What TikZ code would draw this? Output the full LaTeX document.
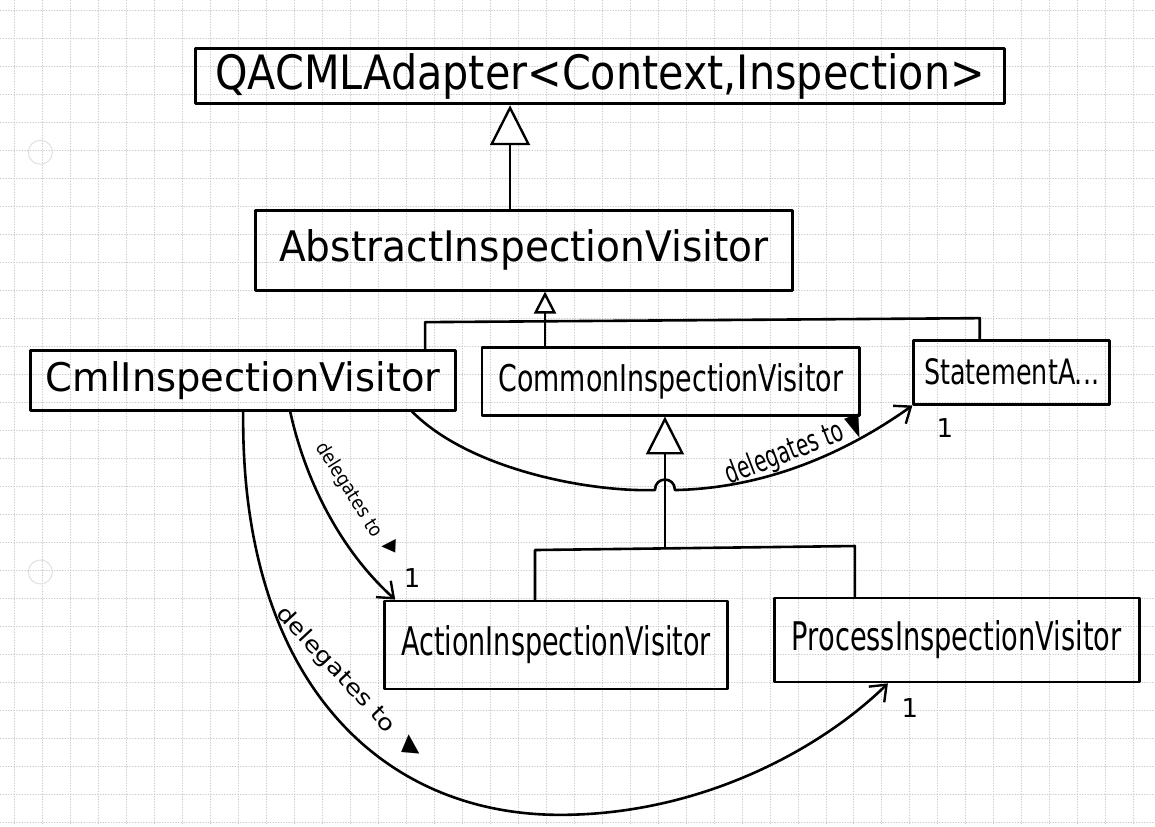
\documentclass[tikz,border=0pt]{standalone}
\usepackage{fontspec}
\setmainfont{DejaVu Sans}
\usetikzlibrary{arrows.meta,calc}
\newcommand{\hwtext}[3]{\resizebox{#1}{#2}{#3}}
\begin{document}
\begin{tikzpicture}[x=1pt,y=-1pt,line width=2.6pt,line cap=round,line join=round,
  box/.style={draw,line width=2.8pt,inner sep=0pt,anchor=center},
  gen/.style={-{Triangle[open,length=#1,width=#1,fill=white,line width=2.4pt]}},
  gen/.default=36pt,
  dlg/.style={-{Straight Barb[length=14pt,width=22pt,line width=2.4pt]}},
  lbl/.style={inner sep=0pt},
  mult/.style={inner sep=0pt,font=\fontsize{26}{26}\selectfont},
  gridline/.style={black!22,dotted,line width=0.7pt}]
% paper
\fill[white] (0,0) rectangle (1155,826);
\foreach \i in {14,42,...,1155} \draw[gridline] (\i,0) -- (\i,826);
\foreach \j in {10,38,...,826} \draw[gridline] (0,\j) -- (1155,\j);
\draw[black!12,line width=1pt] (40,152) circle[radius=12];
\draw[black!12,line width=1pt] (40,572) circle[radius=12];
% classes
\node[box,minimum width=810pt,minimum height=55pt] (qa) at (600,76)
  {\hwtext{770pt}{36pt}{QACMLAdapter<Context,Inspection>}};
\node[box,minimum width=538pt,minimum height=80pt] (ab) at (524,250)
  {\hwtext{490pt}{32pt}{AbstractInspectionVisitor}};
\node[box,minimum width=425pt,minimum height=60pt] (cml) at (243,380)
  {\hwtext{395pt}{30pt}{CmlInspectionVisitor}};
\node[box,minimum width=378pt,minimum height=68pt] (com) at (671,381)
  {\hwtext{345pt}{28pt}{CommonInspectionVisitor}};
\node[box,minimum width=196pt,minimum height=64pt] (st) at (1012,372)
  {\hwtext{175pt}{26pt}{StatementA...}};
\node[box,minimum width=343pt,minimum height=88pt] (act) at (556,645)
  {\hwtext{310pt}{30pt}{ActionInspectionVisitor}};
\node[box,minimum width=365pt,minimum height=84pt] (proc) at (957,640)
  {\hwtext{330pt}{30pt}{ProcessInspectionVisitor}};
% generalization: Abstract -> QACML
\coordinate (g0) at (510,0);
\draw[gen=40pt] (g0 |- ab.north) -- (g0 |- qa.south);
% generalization tree 1
\coordinate (j1) at (545,320);
\coordinate (b1) at (425,322);
\coordinate (b3) at (980,318);
\draw[gen=22pt] (j1) -- (j1 |- ab.south);
\draw (b1 |- cml.north) -- (b1) -- (b3) -- (b3 |- st.north);
\draw (j1) -- (j1 |- com.north);
% generalization tree 2
\coordinate (j2) at (665,548);
\coordinate (b4) at (535,550);
\coordinate (b5) at (855,546);
\draw[gen=38pt] (j2) -- (j2 |- com.south);
\draw (b4 |- act.north) -- (b4) -- (b5) -- (b5 |- proc.north);
% delegation: Cml -> Statement (with hop over tree line)
\coordinate (d1s) at ($(cml.south east)+(-45,0)$);
\coordinate (h1) at (655,490);
\coordinate (h2) at (675,490);
\draw[dlg] (d1s) .. controls (470,470) and (590,492) .. (h1)
  .. controls (655,476) and (675,476) .. (h2)
  .. controls (770,488) and (850,450) .. (st.south west);
\node[lbl,rotate=21] (l1) at (795,450) {\hwtext{146pt}{23pt}{delegates to ▼}};
\node[mult] (m1) at (945,428) {1};
% delegation: Cml -> Action
\coordinate (d2s) at ($(cml.south)+(47,0)$);
\coordinate (d2e) at ($(act.north west)+(12,0)$);
\draw[dlg] (d2s) .. controls (305,480) and (340,550) .. (d2e);
\node[lbl,rotate=-58] (l2) at (357,499) {\hwtext{132pt}{19pt}{delegates to \rotatebox{58}{◀}}};
\node[mult] (m2) at (412,578) {1};
% delegation: Cml -> Process
\coordinate (d3m) at (560,815);
\coordinate (d3e) at ($(proc.south west)+(115,0)$);
\draw[dlg] (cml.south) .. controls (240,680) and (380,815) .. (d3m)
  .. controls (700,815) and (820,750) .. (d3e);
\node[lbl,rotate=-47] (l3) at (350,682) {\hwtext{200pt}{22pt}{delegates to \rotatebox{47}{▲}}};
\node[mult] (m3) at (910,708) {1};
\end{tikzpicture}
\end{document}
